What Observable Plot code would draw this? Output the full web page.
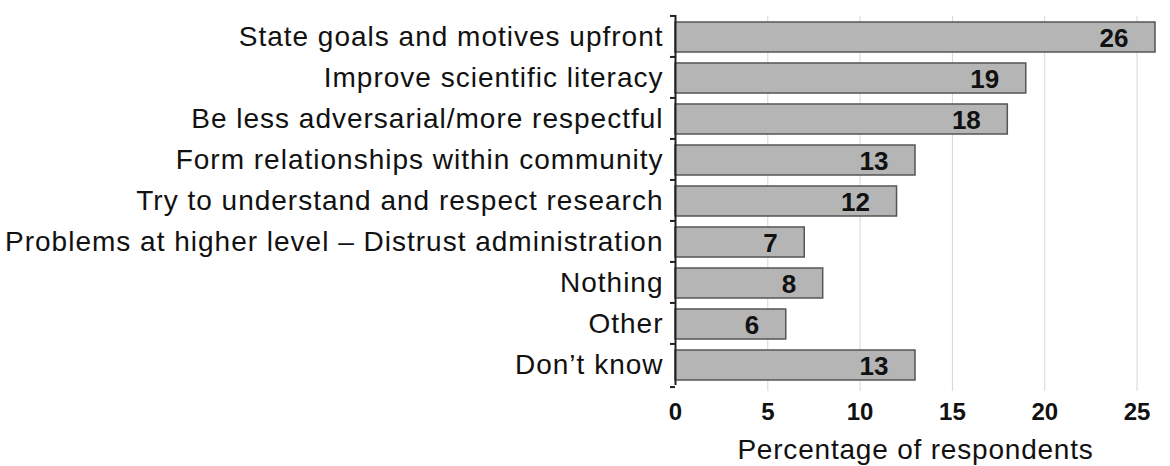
<!DOCTYPE html>
<html>
<head>
<meta charset="utf-8">
<script src="https://cdn.jsdelivr.net/npm/d3@7"></script>
<script src="https://cdn.jsdelivr.net/npm/@observablehq/plot@0.6"></script>
<style>
  html, body { margin: 0; padding: 0; background: #fff; }
  svg { font-family: "Liberation Sans", Arial, sans-serif; }
  g[aria-label="y-axis tick label"] text { letter-spacing: 1px; }
  g.xtitle text { letter-spacing: 0.8px; }
</style>
</head>
<body>
<div id="chart"></div>
<script>
const categories = [
  "State goals and motives upfront",
  "Improve scientific literacy",
  "Be less adversarial/more respectful",
  "Form relationships within community",
  "Try to understand and respect research",
  "Problems at higher level – Distrust administration",
  "Nothing",
  "Other",
  "Don’t know"
];
const values = [26, 19, 18, 13, 12, 7, 8, 6, 13];
const xTicks = [0, 5, 10, 15, 20, 25];
const gridTicks = [5, 10, 15, 20, 25];
const xLabel = "Percentage of respondents";

const data = categories.map((c, i) => ({category: c, value: values[i]}));

const width = 1170, height = 466;
const marginTop = 16, marginBottom = 80;
const step = (height - marginTop - marginBottom) / categories.length;

const chart = Plot.plot({
  width, height,
  marginLeft: 675,
  marginRight: 15,
  marginTop,
  marginBottom,
  style: {fontFamily: "'Liberation Sans', Arial, sans-serif", color: "#111", background: "#fff"},
  x: {domain: [0, 26]},
  y: {domain: categories, paddingInner: 0.26, paddingOuter: 0.13},
  marks: [
    Plot.ruleX(gridTicks, {stroke: "#d6d6d6", strokeWidth: 1, insetBottom: -5}),
    Plot.barX(data, {x: "value", y: "category", fill: "#b5b5b5", stroke: "#555", strokeWidth: 1.5}),
    Plot.text(data, {x: "value", y: "category", text: d => String(d.value), textAnchor: "end", dx: -27, dy: 1, fontSize: 26, fontWeight: "bold", fill: "#111"}),
    Plot.ruleX([0], {stroke: "#222", strokeWidth: 2, dy: -1}),
    Plot.axisY({tickSize: 0, tickPadding: 12, fontSize: 28, label: null, fill: "#111"}),
    Plot.axisY({tickSize: 5, fill: "none", stroke: "#222", strokeWidth: 2, dy: -step / 2 - 1, label: null}),
    Plot.axisY([categories[categories.length - 1]], {tickSize: 5, fill: "none", stroke: "#222", strokeWidth: 2, dy: step / 2 + 1, label: null}),
    Plot.axisX(xTicks, {tickSize: 0, tickPadding: 16, fontSize: 24, fontWeight: "bold", fill: "#111", label: null}),
    Plot.text([xLabel], {frameAnchor: "bottom", lineAnchor: "middle", dy: 64, fontSize: 28, fill: "#111", className: "xtitle"})
  ]
});
document.getElementById("chart").appendChild(chart);
</script>
</body>
</html>
